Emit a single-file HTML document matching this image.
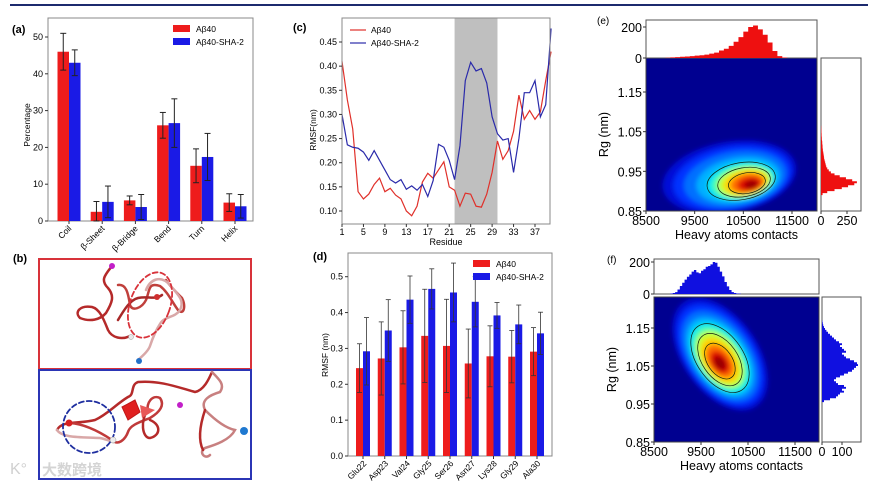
<!DOCTYPE html>
<html><head><meta charset="utf-8">
<style>
html,body{margin:0;padding:0;background:#fff;}
svg{display:block;font-family:"Liberation Sans","Noto Sans CJK SC",sans-serif;}
</style></head>
<body>
<svg id="fig" width="880" height="487" viewBox="0 0 880 487" xmlns="http://www.w3.org/2000/svg">
<defs>
<filter id="blur2" x="-50%" y="-50%" width="200%" height="200%"><feGaussianBlur stdDeviation="2.5"/></filter>
<clipPath id="clipE"><rect x="646" y="58" width="171" height="153"/></clipPath>
<clipPath id="clipF"><rect x="654" y="297" width="165" height="145"/></clipPath>
</defs>
<line x1="10" y1="5" x2="868" y2="5" stroke="#1c2a6e" stroke-width="2"/>

<g>
<text x="13" y="262" font-size="11" font-weight="bold">(b)</text>
<rect x="39" y="259" width="212" height="110" fill="#fff" stroke="#d8323a" stroke-width="2"/>
<rect x="39" y="370" width="212" height="109" fill="#fff" stroke="#2b35b5" stroke-width="2"/>
<g fill="none" stroke-linecap="round">
<path d="M112,266 C105,275 100,280 108,288 C115,296 112,303 106,313 C100,320 90,322 80,318 C74,312 80,305 92,307 C100,309 104,320 108,330 C112,338 122,340 130,336" stroke="#b52a2a" stroke-width="2.5"/>
<path d="M118,285 C126,284 128,292 130,305 C132,312 142,308 146,300 C150,290 148,282 160,286 C168,292 172,302 178,310 C184,316 186,306 182,298 C176,292 168,284 166,280" stroke="#c0403c" stroke-width="2.5"/>
<path d="M146,290 C150,280 160,274 170,285 C178,295 185,300 180,310 C175,318 164,316 160,324 C156,330 152,340 150,346 C148,352 140,358 138,360" stroke="#d9a8a8" stroke-width="2.5"/>
<path d="M118,320 C124,310 130,300 138,298 C148,296 156,300 162,295" stroke="#a82828" stroke-width="2.5"/>
<ellipse cx="150" cy="305" rx="20" ry="34" transform="rotate(20 150 305)" stroke="#d8323a" stroke-width="1.8" stroke-dasharray="5,3"/>
</g>
<circle cx="112" cy="266" r="3" fill="#c21fc8"/>
<circle cx="157" cy="297" r="3" fill="#d03030"/>
<circle cx="131" cy="337" r="2.5" fill="#e8e8e8" stroke="#999" stroke-width="0.5"/>
<circle cx="139" cy="361" r="3" fill="#2270c8"/>
<g fill="none" stroke-linecap="round">
<path d="M57,430 C62,420 80,424 95,420 C108,414 115,405 128,397 C135,395 130,385 138,382 C160,380 180,388 195,392 C205,390 210,376 212,372" stroke="#b52a2a" stroke-width="2.5"/>
<path d="M57,430 C62,438 80,437 100,438 C110,440 115,444 114,441" stroke="#d9a8a8" stroke-width="2.5"/>
<path d="M70,423 C85,424 100,432 112,440 C118,446 125,440 128,432 C130,425 140,422 150,418 C160,412 165,405 160,398 C152,394 146,404 148,410" stroke="#c03a3a" stroke-width="2.5"/>
<path d="M148,410 C140,420 142,438 150,438 C160,436 162,425 150,420" stroke="#b52a2a" stroke-width="2.5"/>
<path d="M212,372 C220,380 225,385 220,392 C210,395 200,400 205,410 C215,420 225,428 235,430 C230,440 215,445 205,448 C198,452 205,460 210,455" stroke="#c88080" stroke-width="2.5"/>
<path d="M205,410 C200,425 198,440 203,450" stroke="#b52a2a" stroke-width="2.5"/>
<path d="M122,407 L135,400 L140,412 L128,420 Z" fill="#e02020" stroke="#c01818" stroke-width="1"/>
<path d="M140,405 L155,410 L142,418 Z" fill="#e85858"/>
<circle cx="89" cy="427" r="26" stroke="#1f2fa0" stroke-width="1.8" stroke-dasharray="5,3"/>
</g>
<circle cx="69" cy="423" r="3.5" fill="#d82020"/>
<circle cx="113" cy="440" r="3" fill="#eee" stroke="#999" stroke-width="0.5"/>
<circle cx="180" cy="405" r="3" fill="#c21fc8"/>
<circle cx="244" cy="431" r="4" fill="#1f78d0"/>
<text x="10" y="474" font-size="16" fill="#d0d0d0">K°</text>
<text x="42" y="475" font-size="15" fill="#d4d4d4" font-weight="bold">大数跨境</text>
</g>

<g id="pa"></g>
<g id="pc"></g>
<g id="pd"></g>
<g id="pe"></g>
<g id="pf"></g>
</svg>
<script>
const NS='http://www.w3.org/2000/svg';
// ---- Panel a data
const aCats=['Coil','β-Sheet','β-Bridge','Bend','Turn','Helix'];
const aRed=[46,2.5,5.6,26,15,5];
const aRedErr=[5,2.8,1.2,3.5,4.6,2.4];
const aBlue=[43,5.2,3.8,26.6,17.4,4];
const aBlueErr=[3.5,4.3,3.4,6.6,6.4,3.2];
const aTicks=[0,10,20,30,40,50];
// ---- Panel c data
const cResidues=[1,2,3,4,5,6,7,8,9,10,11,12,13,14,15,16,17,18,19,20,21,22,23,24,25,26,27,28,29,30,31,32,33,34,35,36,37,38,39,40];
const cRed=[0.41,0.33,0.27,0.14,0.125,0.135,0.155,0.168,0.14,0.147,0.133,0.125,0.10,0.09,0.11,0.16,0.178,0.168,0.185,0.202,0.15,0.143,0.11,0.137,0.135,0.11,0.108,0.135,0.18,0.245,0.207,0.225,0.265,0.34,0.29,0.308,0.29,0.305,0.37,0.43];
const cBlue=[0.30,0.237,0.232,0.23,0.222,0.205,0.225,0.205,0.185,0.165,0.158,0.165,0.145,0.152,0.143,0.155,0.13,0.163,0.238,0.232,0.205,0.165,0.235,0.37,0.408,0.39,0.395,0.365,0.295,0.26,0.247,0.25,0.18,0.25,0.345,0.345,0.37,0.295,0.32,0.478];
const cXTicks=[1,5,9,13,17,21,25,29,33,37];
const cYTicks=[0.10,0.15,0.20,0.25,0.30,0.35,0.40,0.45];
const cBand=[22,30];
// ---- Panel d data
const dCats=['Glu22','Asp23','Val24','Gly25','Ser26','Asn27','Lys28','Gly29','Ala30'];
const dRed=[0.245,0.272,0.303,0.335,0.307,0.258,0.278,0.277,0.291];
const dRedErr=[0.068,0.102,0.102,0.130,0.130,0.096,0.085,0.073,0.067];
const dBlue=[0.292,0.350,0.436,0.466,0.456,0.430,0.392,0.367,0.342];
const dBlueErr=[0.094,0.086,0.066,0.056,0.082,0.070,0.036,0.054,0.059];
const dTicks=[0.0,0.1,0.2,0.3,0.4,0.5];
// ---- Panel e data
const eTopBins=[8900,9000,9100,9200,9300,9400,9500,9600,9700,9800,9900,10000,10100,10200,10300,10400,10500,10600,10700,10800,10900,11000,11100,11200,11300];
const eTopCounts=[2,4,6,8,10,12,15,18,22,28,35,48,60,78,105,135,170,200,210,185,150,100,45,12,3];
const eRightBins=[0.89,0.895,0.90,0.905,0.91,0.915,0.92,0.925,0.93,0.935,0.94,0.945,0.95,0.955,0.96,0.965,0.97,0.975,0.98,0.985,0.99,0.995,1.0,1.01,1.02,1.03,1.04,1.05,1.06];
const eRightCounts=[15,60,130,200,260,320,345,300,240,180,130,95,75,60,50,45,40,35,30,28,25,22,18,15,12,8,6,4,2];
const ePeak=[10700,0.915];
// ---- Panel f data
const fTopBins=[8850,8900,8950,9000,9050,9100,9150,9200,9250,9300,9350,9400,9450,9500,9550,9600,9650,9700,9750,9800,9850,9900,9950,10000,10050,10100,10150,10200,10250,10300];
const fTopCounts=[3,6,12,28,50,70,90,108,122,140,150,135,130,145,155,170,175,185,200,195,170,140,110,75,48,25,12,6,3,2];
const fRightBins=[0.955,0.96,0.965,0.97,0.975,0.98,0.985,0.99,0.995,1.0,1.005,1.01,1.015,1.02,1.025,1.03,1.035,1.04,1.045,1.05,1.055,1.06,1.065,1.07,1.075,1.08,1.085,1.09,1.095,1.10,1.105,1.11,1.115,1.12,1.125,1.13,1.135,1.14,1.145,1.15,1.155,1.16,1.165];
const fRightCounts=[10,40,70,80,90,110,100,120,110,80,70,60,70,90,110,130,150,160,170,180,175,160,140,120,110,100,120,110,100,90,100,85,70,60,50,40,30,22,15,10,6,4,2];
const fPeak=[9900,1.055];
const hmXTicks=[8500,9500,10500,11500];
const hmYTicks=[0.85,0.95,1.05,1.15];

function el(tag,attrs,parent){const e=document.createElementNS(NS,tag);for(const k in attrs)e.setAttribute(k,attrs[k]);parent.appendChild(e);return e;}
function txt(s,attrs,parent){const e=el('text',attrs,parent);e.textContent=s;return e;}
function lin(d0,d1,r0,r1){return v=>r0+(v-d0)/(d1-d0)*(r1-r0);}
const RED='#ee1c1c',BLUE='#1a1ae6';

// ===== Panel a
(function(){
const g=document.getElementById('pa');
const L=48,R=253,T=18,B=221;
const y=lin(0,50,B,37);
const xc=i=>69+i*33.2;
txt('(a)',{x:12,y:33,'font-size':11,'font-weight':'bold'},g);
el('rect',{x:L,y:T,width:R-L,height:B-T,fill:'#fff',stroke:'#888','stroke-width':1},g);
aCats.forEach((c,i)=>{
  const bw=11.5;
  [[aRed,aRedErr,RED,-1],[aBlue,aBlueErr,BLUE,0]].forEach(([v,e,col,o])=>{
    const x0=xc(i)+o*bw;
    const r=el('rect',{x:x0,y:y(v[i]),width:bw,height:B-y(v[i]),fill:col},g);
    
    
    const cx=x0+bw/2;
    el('line',{x1:cx,x2:cx,y1:y(v[i]+e[i]),y2:y(Math.max(0,v[i]-e[i])),stroke:'#222','stroke-width':1},g);
    el('line',{x1:cx-3,x2:cx+3,y1:y(v[i]+e[i]),y2:y(v[i]+e[i]),stroke:'#222','stroke-width':1},g);
    el('line',{x1:cx-3,x2:cx+3,y1:y(Math.max(0,v[i]-e[i])),y2:y(Math.max(0,v[i]-e[i])),stroke:'#222','stroke-width':1},g);
  });
  el('line',{x1:xc(i),x2:xc(i),y1:B,y2:B+3,stroke:'#333'},g);
  const t=txt(c,{x:xc(i)+3,y:B+8,'font-size':8.5,'text-anchor':'end',transform:`rotate(-45 ${xc(i)+3} ${B+8})`},g);
  
  
});
aTicks.forEach(v=>{el('line',{x1:L-3,x2:L,y1:y(v),y2:y(v),stroke:'#333'},g);txt(v,{x:L-5,y:y(v)+3,'font-size':9,'text-anchor':'end'},g);});
txt('Percentage',{x:30,y:125,'font-size':8.5,'text-anchor':'middle',transform:'rotate(-90 30 125)'},g);
el('rect',{x:173,y:25,width:17,height:7,fill:RED},g);txt('Aβ40',{x:196,y:32,'font-size':8.5},g);
el('rect',{x:173,y:38,width:17,height:7,fill:BLUE},g);txt('Aβ40-SHA-2',{x:196,y:45,'font-size':8.5},g);
})();

// ===== Panel c
(function(){
const g=document.getElementById('pc');
const L=342,R=550,T=18,B=224;
const x=lin(1,37,342,535),y=lin(0.10,0.45,211,42);
txt('(c)',{x:293,y:31,'font-size':11,'font-weight':'bold'},g);
el('rect',{x:L,y:T,width:R-L,height:B-T,fill:'#fff'},g);
const band=el('rect',{x:x(cBand[0]),y:T,width:x(cBand[1])-x(cBand[0]),height:B-T,fill:'#bfbfbf'},g);

[[cRed,'#e0302a','line-abeta40'],[cBlue,'#2a2aaa','line-sha2']].forEach(([d,col,n])=>{
  const p=el('polyline',{points:cResidues.map((r,i)=>x(r)+','+y(d[i])).join(' '),fill:'none',stroke:col,'stroke-width':1.2},g);
  
});
el('rect',{x:L,y:T,width:R-L,height:B-T,fill:'none',stroke:'#888'},g);
cXTicks.forEach(v=>{el('line',{x1:x(v),x2:x(v),y1:B,y2:B+3,stroke:'#333'},g);txt(v,{x:x(v),y:B+11,'font-size':9,'text-anchor':'middle'},g);});
cYTicks.forEach(v=>{el('line',{x1:L-3,x2:L,y1:y(v),y2:y(v),stroke:'#333'},g);txt(v.toFixed(2),{x:L-5,y:y(v)+3,'font-size':9,'text-anchor':'end'},g);});
txt('Residue',{x:446,y:245,'font-size':9,'text-anchor':'middle'},g);
txt('RMSF(nm)',{x:316,y:130,'font-size':8.5,'text-anchor':'middle',transform:'rotate(-90 316 130)'},g);
el('line',{x1:350,x2:366,y1:30,y2:30,stroke:'#e0302a','stroke-width':1.2},g);txt('Aβ40',{x:371,y:33,'font-size':8.5},g);
el('line',{x1:350,x2:366,y1:43,y2:43,stroke:'#2a2aaa','stroke-width':1.2},g);txt('Aβ40-SHA-2',{x:371,y:46,'font-size':8.5},g);
})();

// ===== Panel d
(function(){
const g=document.getElementById('pd');
const L=348,R=552,T=253,B=456;
const y=lin(0,0.5,B,276.7);
const xc=i=>363+i*21.75;
txt('(d)',{x:313,y:260,'font-size':11,'font-weight':'bold'},g);
el('rect',{x:L,y:T,width:R-L,height:B-T,fill:'#fff',stroke:'#888'},g);
dCats.forEach((c,i)=>{
  const bw=7;
  [[dRed,dRedErr,RED,-1],[dBlue,dBlueErr,BLUE,0]].forEach(([v,e,col,o])=>{
    const x0=xc(i)+o*bw;
    const r=el('rect',{x:x0,y:y(v[i]),width:bw,height:B-y(v[i]),fill:col},g);
    
    
    const cx=x0+bw/2,t=y(v[i]+e[i]),b=y(v[i]-e[i]);
    el('line',{x1:cx,x2:cx,y1:t,y2:b,stroke:'#333','stroke-width':0.8},g);
    el('line',{x1:cx-2.5,x2:cx+2.5,y1:t,y2:t,stroke:'#333','stroke-width':0.8},g);
    el('line',{x1:cx-2.5,x2:cx+2.5,y1:b,y2:b,stroke:'#333','stroke-width':0.8},g);
  });
  el('line',{x1:xc(i),x2:xc(i),y1:B,y2:B+3,stroke:'#333'},g);
  txt(c,{x:xc(i)+4,y:B+8,'font-size':8.5,'text-anchor':'end',transform:`rotate(-45 ${xc(i)+4} ${B+8})`},g);
});
dTicks.forEach(v=>{el('line',{x1:L-3,x2:L,y1:y(v),y2:y(v),stroke:'#333'},g);txt(v.toFixed(1),{x:L-5,y:y(v)+3,'font-size':9,'text-anchor':'end'},g);});
txt('RMSF (nm)',{x:328,y:355,'font-size':8.5,'text-anchor':'middle',transform:'rotate(-90 328 355)'},g);
el('rect',{x:473,y:260,width:17,height:7,fill:RED},g);txt('Aβ40',{x:496,y:267,'font-size':8.5},g);
el('rect',{x:473,y:273,width:17,height:7,fill:BLUE},g);txt('Aβ40-SHA-2',{x:496,y:280,'font-size':8.5},g);
})();

// ===== Heatmap panels
const jet=['#0010d8','#0030ff','#0070ff','#00b0ff','#00e8f0','#50ffa8','#c8ff30','#ffd000','#ff7000','#e01000','#9a0000'];
function hmPanel(id,o){
  const g=document.getElementById(id);
  const x=lin(8500,11500,o.L,o.x115),y=lin(0.85,1.15,o.B,o.y115);
  txt(o.label,{x:o.lx,y:o.ly,'font-size':10},g);
  const hm=el('g',{'clip-path':'url(#'+o.clip+')'},g);
  el('rect',{x:o.L,y:o.T,width:o.R-o.L,height:o.B-o.T,fill:'#000090'},hm);
  const cx=x(o.peak[0]),cy=y(o.peak[1]);
  const blob=el('g',{filter:'url(#blur2)'},hm);
  
  jet.forEach((c,k)=>{
    const s=o.sc[k];
    el('ellipse',{cx:cx+o.off[0]*s,cy:cy+o.off[1]*s,rx:o.rx*s+1.5,ry:o.ry*s+1.5,fill:c,transform:`rotate(${o.rot} ${cx} ${cy})`},blob);
  });
  o.lv.forEach(s=>el('ellipse',{cx:cx+o.off[0]*s,cy:cy+o.off[1]*s,rx:o.rx*s+1.5,ry:o.ry*s+1.5,fill:'none',stroke:'#102010','stroke-width':0.7,transform:`rotate(${o.rot} ${cx} ${cy})`},hm));
  el('rect',{x:o.L,y:o.T,width:o.R-o.L,height:o.B-o.T,fill:'none',stroke:'#444'},g);
  hmXTicks.forEach(v=>{el('line',{x1:x(v),x2:x(v),y1:o.B,y2:o.B+3,stroke:'#333'},g);txt(v,{x:x(v),y:o.B+14,'font-size':12.5,'text-anchor':'middle'},g);});
  hmYTicks.forEach(v=>{el('line',{x1:o.L-3,x2:o.L,y1:y(v),y2:y(v),stroke:'#333'},g);txt(v.toFixed(2),{x:o.L-4,y:y(v)+5,'font-size':12.5,'text-anchor':'end'},g);});
  txt('Heavy atoms contacts',{x:(o.L+o.R)/2+5,y:o.B+28,'font-size':12.5,'text-anchor':'middle'},g);
  const yl=(o.T+o.B)/2;
  txt('Rg (nm)',{x:o.L-38,y:yl,'font-size':12.5,'text-anchor':'middle',transform:`rotate(-90 ${o.L-38} ${yl})`},g);
  const hy=lin(0,200,o.hB,o.hT200);
  el('rect',{x:o.L,y:o.hTop,width:o.R-o.L,height:o.hB-o.hTop,fill:'#fff',stroke:'#555'},g);
  let d='M'+x(o.tb[0])+','+o.hB;
  o.tb.forEach((b,i)=>{d+=` L${x(b)},${hy(o.tc[i])} L${x(b+o.tw)},${hy(o.tc[i])}`;});
  d+=` L${x(o.tb[o.tb.length-1]+o.tw)},${o.hB} Z`;
  const th=el('path',{d:d,fill:o.col},g);
  
  [0,200].forEach(v=>{el('line',{x1:o.L-3,x2:o.L,y1:hy(v),y2:hy(v),stroke:'#333'},g);txt(v,{x:o.L-4,y:hy(v)+5,'font-size':12.5,'text-anchor':'end'},g);});
  const hx=lin(0,o.rTick,o.rL,o.rTickX);
  el('rect',{x:o.rL,y:o.T,width:o.rR-o.rL,height:o.B-o.T,fill:'#fff',stroke:'#555'},g);
  let d2='M'+o.rL+','+y(o.rb[0]);
  o.rb.forEach((b,i)=>{d2+=` L${hx(o.rc[i])},${y(b)} L${hx(o.rc[i])},${y(b+o.rw)}`;});
  d2+=` L${o.rL},${y(o.rb[o.rb.length-1]+o.rw)} Z`;
  const rh=el('path',{d:d2,fill:o.col},g);
  
  [0,o.rTick].forEach(v=>{el('line',{x1:hx(v),x2:hx(v),y1:o.B,y2:o.B+3,stroke:'#333'},g);txt(v,{x:hx(v),y:o.B+14,'font-size':12.5,'text-anchor':'middle'},g);});
}
hmPanel('pe',{label:'(e)',lx:597,ly:24,L:646,R:817,T:58,B:211,x115:792,y115:92,clip:'clipE',peak:ePeak,rx:66,ry:34,rot:-10,off:[-22,-12],
  sc:[1,0.88,0.76,0.62,0.5,0.44,0.38,0.31,0.24,0.16,0.08],lv:[0.5,0.38,0.26],
  hTop:20,hB:58,hT200:27,tb:eTopBins,tc:eTopCounts,tw:100,col:'#ee1010',
  rL:821,rR:861,rTick:250,rTickX:847,rb:eRightBins,rc:eRightCounts,rw:0.005});
hmPanel('pf',{label:'(f)',lx:607,ly:263,L:654,R:819,T:297,B:442,x115:795,y115:328,clip:'clipF',peak:fPeak,rx:62,ry:36,rot:55,off:[-8,-6],
  sc:[1,0.9,0.8,0.7,0.62,0.55,0.48,0.38,0.28,0.18,0.1],lv:[0.6,0.45,0.3],
  hTop:259,hB:294,hT200:262,tb:fTopBins,tc:fTopCounts,tw:50,col:'#1010e0',
  rL:822,rR:861,rTick:100,rTickX:842,rb:fRightBins,rc:fRightCounts,rw:0.005});
</script>
</body></html>
